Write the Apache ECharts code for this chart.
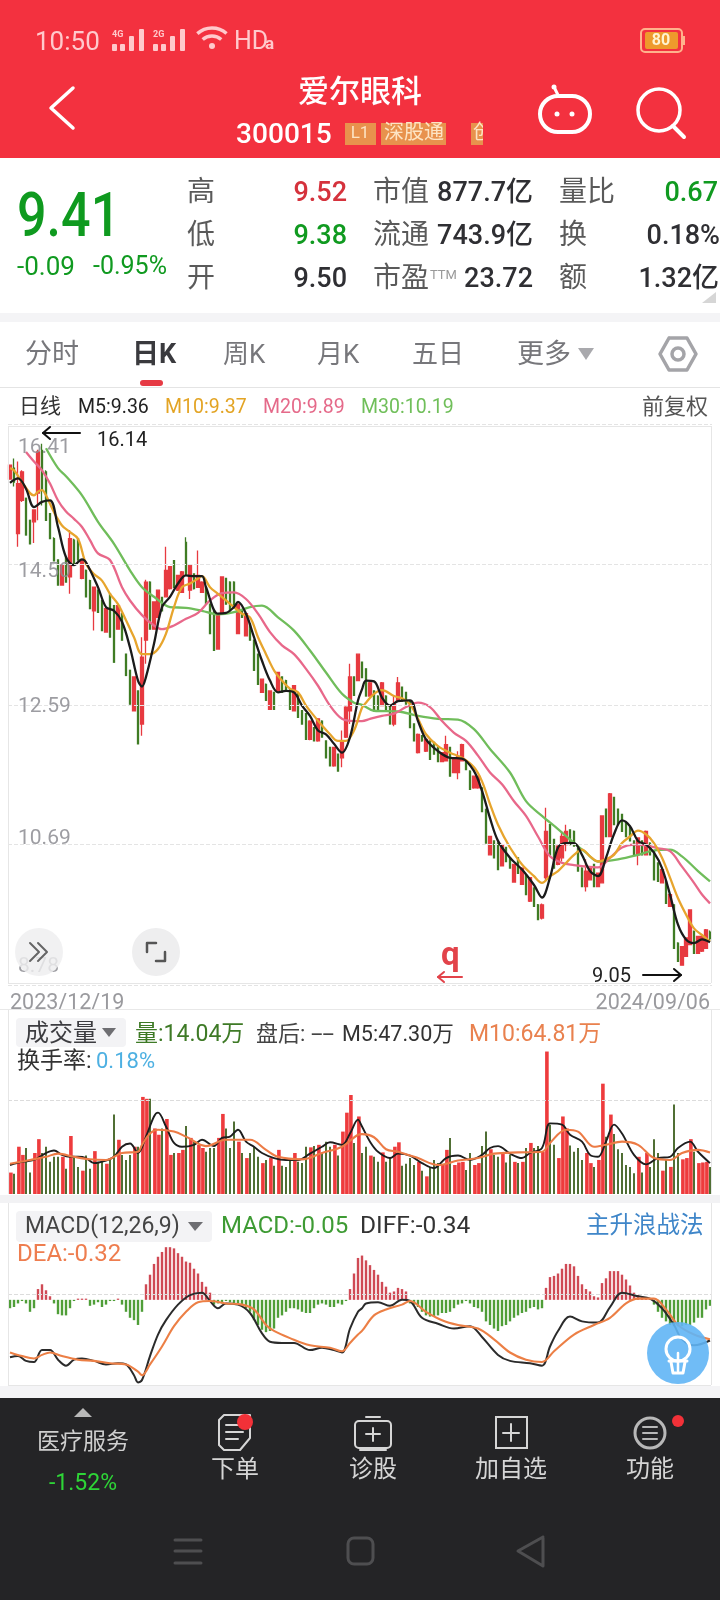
<!DOCTYPE html>
<html><head><meta charset="utf-8">
<style>html,body{margin:0;padding:0;background:#fff}#c{width:720px;height:1600px}</style>
<script src="https://cdn.jsdelivr.net/npm/echarts@6/dist/echarts.min.js"></script>
</head><body><div id="c"></div>
<script>
// [open, close, low, high]
const klineRows=[
[15.66,15.85,15.66,15.85],[15.81,15.62,15.56,15.94],[14.92,15.60,14.74,15.90],[15.37,15.76,15.35,15.78],[15.40,14.90,14.90,15.40],[15.10,14.78,14.78,15.10],[15.08,15.24,14.79,15.24],[15.47,16.03,15.10,16.06],[16.05,15.51,15.30,16.14],[15.76,15.10,15.10,15.78],
[15.19,14.85,14.85,15.20],[14.85,14.55,14.55,14.87],[14.56,14.22,14.22,14.57],[14.22,14.49,14.21,14.50],[14.60,14.26,14.25,14.62],[14.33,14.85,14.10,14.97],[14.83,14.49,14.48,14.85],[14.85,14.56,14.55,14.86],[14.31,14.56,14.30,14.57],[14.42,14.06,14.05,14.43],
[14.28,13.90,13.89,14.29],[13.87,14.19,13.60,14.20],[14.15,13.85,13.85,14.16],[14.01,13.60,13.60,14.02],[13.58,13.90,13.57,13.91],[14.10,13.51,13.51,14.11],[13.94,13.17,13.17,13.94],[13.62,13.94,13.61,13.95],[13.83,13.47,13.47,13.83],[13.28,12.99,12.99,13.28],
[13.06,12.60,12.60,13.06],[12.51,12.97,12.51,12.98],[12.78,12.06,12.06,12.78],[12.33,13.24,12.17,13.51],[13.47,14.26,13.15,14.29],[14.26,13.62,13.62,14.27],[13.62,13.99,13.61,14.00],[13.78,14.15,13.77,14.16],[14.05,13.87,13.86,14.06],[14.06,14.42,14.05,14.74],
[14.17,14.47,14.16,14.48],[14.55,14.19,14.18,14.56],[14.15,14.35,14.14,14.36],[14.12,14.40,14.11,14.41],[14.80,14.37,14.35,14.87],[14.15,14.49,14.03,14.50],[14.37,14.17,14.16,14.38],[14.19,14.35,14.18,14.69],[14.12,14.26,14.11,14.27],[14.19,13.96,13.96,14.20],
[13.96,13.56,13.56,13.97],[13.87,13.33,13.33,13.88],[13.35,13.83,13.34,13.84],[13.85,14.33,13.84,14.34],[14.31,13.96,13.96,14.32],[14.26,13.87,13.87,14.27],[14.26,13.92,13.92,14.27],[13.56,13.96,13.55,13.97],[13.87,13.78,13.77,13.88],[13.53,13.83,13.52,13.84],
[13.69,13.47,13.47,13.70],[13.47,13.06,13.06,13.47],[13.28,12.87,12.87,13.29],[12.76,12.94,12.75,12.95],[12.87,12.65,12.65,12.88],[12.53,12.78,12.52,12.79],[12.76,12.53,12.53,12.77],[12.78,13.03,12.77,13.04],[12.97,12.76,12.76,12.98],[12.92,12.78,12.78,12.93],
[12.81,12.53,12.53,12.82],[12.51,12.85,12.50,12.86],[12.74,12.42,12.42,12.75],[12.51,12.33,12.33,12.52],[12.47,12.12,12.12,12.48],[12.12,12.37,12.11,12.38],[12.28,12.10,12.10,12.29],[12.10,12.40,12.09,12.41],[12.37,12.15,12.15,12.38],[12.10,11.87,11.87,12.11],
[12.01,11.76,11.76,12.02],[11.76,12.01,11.75,12.02],[11.92,11.69,11.69,11.93],[11.87,12.10,11.74,12.24],[12.15,12.56,12.14,12.57],[12.51,12.97,12.33,13.15],[12.97,12.72,12.72,12.98],[12.92,13.28,12.91,13.29],[13.17,12.96,12.96,13.18],[13.08,12.71,12.71,13.08],
[12.71,12.89,12.70,12.90],[12.78,12.51,12.51,12.79],[12.71,12.53,12.53,12.72],[12.58,12.89,12.57,12.90],[12.71,12.51,12.51,12.72],[12.58,12.33,12.33,12.58],[12.33,12.60,12.30,12.71],[12.64,12.89,12.63,12.97],[12.83,12.64,12.64,12.84],[12.76,12.60,12.60,12.77],
[12.64,12.28,12.28,12.65],[12.33,12.10,12.10,12.34],[11.94,12.19,11.93,12.20],[12.17,12.10,12.09,12.18],[11.96,12.12,11.95,12.13],[12.10,11.85,11.85,12.11],[12.08,11.92,11.92,12.09],[12.01,11.82,11.82,12.02],[11.82,11.94,11.81,11.95],[11.83,12.05,11.82,12.17],
[12.01,11.62,11.62,12.02],[11.67,11.87,11.66,11.88],[11.67,11.89,11.58,11.96],[11.83,12.05,11.82,12.06],[11.83,11.71,11.71,11.84],[11.69,11.44,11.44,11.70],[11.46,11.62,11.45,11.63],[11.46,11.62,11.45,11.63],[11.46,11.14,11.14,11.47],[11.17,10.71,10.71,11.17],
[10.55,10.80,10.54,10.81],[10.74,10.51,10.51,10.75],[10.71,10.35,10.35,10.72],[10.40,10.69,10.39,10.70],[10.65,10.46,10.46,10.66],[10.51,10.37,10.37,10.52],[10.18,10.42,10.17,10.43],[10.51,10.30,10.30,10.52],[10.15,10.37,10.14,10.38],[10.28,10.01,10.01,10.29],
[9.92,10.24,9.91,10.25],[10.10,9.85,9.85,10.11],[9.87,9.67,9.67,9.88],[9.69,9.87,9.67,9.89],[10.24,10.87,10.19,11.19],[10.96,10.55,10.55,10.97],[10.76,10.37,10.37,10.77],[10.42,10.67,10.41,10.68],[10.51,10.80,10.46,10.87],[10.69,10.87,10.60,10.96],
[10.89,10.69,10.69,10.90],[10.87,10.67,10.67,10.88],[10.64,10.33,10.33,10.65],[10.37,10.12,10.12,10.38],[10.12,10.33,10.05,10.49],[10.21,10.37,10.20,10.38],[10.42,10.12,10.12,10.43],[10.12,10.30,10.11,10.31],[10.17,11.08,10.16,11.09],[11.17,10.80,10.80,11.18],
[10.80,11.38,10.79,11.39],[11.33,10.96,10.96,11.34],[11.17,10.96,10.96,11.18],[11.10,10.87,10.87,11.11],[10.99,10.80,10.80,11.00],[10.92,10.74,10.74,10.93],[10.74,10.55,10.55,10.75],[10.55,10.78,10.41,10.79],[10.74,10.55,10.55,10.75],[10.55,10.87,10.54,10.88],
[10.71,10.55,10.55,10.72],[10.60,10.21,10.21,10.61],[10.44,10.19,10.19,10.45],[10.17,10.35,10.16,10.36],[10.19,9.89,9.89,10.20],[9.85,10.01,9.84,10.02],[9.87,9.28,9.28,9.88],[9.35,9.10,9.10,9.36],[9.05,9.30,9.05,9.31],[9.17,9.42,9.16,9.43],
[9.33,9.80,9.32,9.81],[9.51,9.21,9.21,9.52],[9.21,9.44,9.20,9.45],[9.24,9.44,9.23,9.45],[9.28,9.53,9.27,9.54],[9.50,9.41,9.38,9.52]];

// [bar index, value] read at the turning points of each line
const ma5=[[0,15.61],[2,15.67],[4,15.53],[6,15.28],[8,15.35],[10,15.37],[12,15.01],[14,14.60],[16,14.49],[18,14.57],[19,14.53],[22,14.19],[24,13.92],[26,13.87],[28,13.72],[30,13.37],[32,12.92],[33,12.84],[34,12.97],[36,13.42],[38,13.92],[40,14.06],[42,14.24],[44,14.35],[46,14.34],[48,14.34],[49,14.19],[52,13.83],[54,13.84],[56,13.92],[57,13.99],[59,13.83],[61,13.51],[63,13.19],[65,12.92],[67,12.76],[69,12.78],[71,12.76],[73,12.58],[75,12.44],[77,12.24],[79,12.19],[81,12.06],[83,11.94],[85,12.15],[87,12.65],[88,12.80],[89,12.92],[91,12.91],[93,12.69],[95,12.58],[97,12.64],[100,12.65],[102,12.37],[104,12.12],[107,11.96],[110,11.87],[113,11.86],[116,11.69],[118,11.42],[120,11.05],[122,10.74],[125,10.51],[128,10.35],[131,10.14],[133,9.97],[135,10.24],[137,10.65],[139,10.71],[141,10.71],[143,10.55],[145,10.33],[147,10.26],[149,10.51],[151,10.83],[153,11.02],[155,10.94],[157,10.74],[159,10.69],[161,10.58],[163,10.37],[165,10.01],[167,9.60],[169,9.40],[171,9.35],[173,9.40],[175,9.36]];
const ma10=[[0,15.81],[1,15.78],[3,15.62],[5,15.47],[6,15.44],[7,15.49],[8,15.51],[9,15.44],[11,15.21],[13,15.03],[15,14.94],[17,14.85],[19,14.51],[21,14.37],[23,14.28],[25,14.10],[27,13.96],[29,13.74],[31,13.51],[33,13.28],[35,13.28],[37,13.35],[39,13.56],[41,13.92],[43,14.19],[45,14.24],[47,14.31],[48,14.34],[50,14.19],[52,14.10],[54,14.01],[56,13.92],[58,13.83],[60,13.78],[62,13.51],[64,13.28],[66,13.06],[68,12.92],[70,12.81],[72,12.76],[74,12.58],[76,12.44],[78,12.31],[80,12.19],[82,12.10],[84,12.10],[86,12.24],[88,12.55],[89,12.62],[91,12.74],[93,12.79],[96,12.71],[98,12.68],[100,12.60],[102,12.40],[104,12.19],[107,12.03],[110,11.94],[113,11.87],[116,11.74],[118,11.55],[120,11.24],[122,10.96],[125,10.65],[128,10.42],[131,10.26],[133,10.17],[135,10.26],[137,10.33],[139,10.44],[141,10.55],[143,10.62],[145,10.53],[147,10.46],[149,10.49],[151,10.55],[153,10.71],[155,10.80],[157,10.88],[159,10.83],[161,10.71],[163,10.51],[165,10.24],[167,9.96],[169,9.74],[171,9.55],[173,9.46],[175,9.37]];
const ma20=[[4,16.03],[6,15.90],[8,15.78],[10,15.60],[12,15.37],[14,15.22],[16,15.12],[18,15.01],[20,14.83],[22,14.65],[25,14.56],[28,14.19],[30,14.01],[33,13.81],[36,13.67],[38,13.62],[41,13.67],[44,13.76],[47,13.84],[50,14.01],[53,14.11],[56,14.12],[59,14.03],[62,13.83],[65,13.58],[68,13.40],[71,13.28],[74,13.08],[77,12.85],[80,12.58],[83,12.40],[86,12.37],[88,12.37],[90,12.40],[93,12.44],[96,12.47],[99,12.56],[102,12.62],[105,12.56],[108,12.37],[111,12.21],[114,12.10],[117,11.90],[120,11.67],[123,11.51],[126,11.28],[129,11.08],[132,10.80],[135,10.53],[138,10.44],[141,10.41],[144,10.39],[147,10.38],[150,10.51],[153,10.65],[156,10.69],[159,10.68],[162,10.64],[165,10.60],[168,10.39],[171,10.17],[173,10.01],[175,9.89]];
const ma30=[[9,16.08],[12,15.81],[14,15.70],[18,15.44],[22,15.08],[26,14.78],[30,14.42],[33,14.19],[36,14.06],[40,13.92],[44,13.91],[48,13.87],[52,13.82],[56,13.85],[60,13.92],[63,13.94],[67,13.78],[71,13.60],[75,13.33],[79,13.03],[83,12.74],[86,12.62],[88,12.59],[91,12.51],[97,12.50],[102,12.44],[107,12.40],[112,12.39],[116,12.26],[120,11.99],[125,11.67],[129,11.28],[133,11.08],[137,10.90],[141,10.71],[144,10.58],[147,10.46],[152,10.49],[157,10.55],[161,10.61],[165,10.62],[168,10.53],[172,10.33],[175,10.19]];

// volume, 万
const volumes=[34,32,75,62,73,34,65,87,65,75,51,59,59,59,40,92,57,43,37,61,40,68,51,51,48,57,126,86,62,54,62,75,75,154,151,151,104,94,104,119,62,65,65,70,108,89,83,78,73,67,73,73,89,127,104,73,115,83,65,57,65,75,59,49,54,57,45,70,45,43,54,65,51,49,75,74,76,78,65,83,75,78,61,99,129,157,81,123,
65,75,61,59,51,66,51,57,75,82,45,48,57,46,51,37,28,43,54,49,46,70,89,46,50,51,38,65,46,49,76,99,71,62,59,65,50,62,51,49,51,73,81,73,76,67,226,110,78,57,123,104,77,67,73,54,65,49,43,54,175,91,126,95,71,65,46,43,33,59,34,65,43,87,65,37,54,43,142,65,55,57,87,67,49,50,51,43];
const volMa5=[[0,46],[3,51],[6,54],[9,65],[11,69],[13,62],[15,59],[17,59],[19,57],[21,49],[24,53],[26,59],[28,75],[30,80],[32,65],[34,91],[36,123],[37,129],[39,107],[41,81],[43,75],[46,78],[48,86],[51,76],[53,89],[55,91],[57,102],[59,83],[61,75],[63,65],[66,57],[69,54],[72,54],[75,64],[78,75],[80,82],[83,78],[85,96],[87,118],[88,107],[90,83],[92,67],[95,57],[97,64],[100,61],[103,49],[106,41],[109,57],[112,61],[115,54],[118,62],[120,73],[122,76],[125,64],[128,57],[130,65],[133,73],[135,112],[138,110],[140,94],[143,83],[145,62],[147,59],[149,83],[151,110],[153,96],[156,62],[159,47],[162,57],[165,59],[167,73],[170,83],[172,67],[175,49]];
const volMa10=[[0,48],[5,54],[9,59],[12,64],[16,59],[20,55],[24,54],[28,65],[32,67],[33,78],[35,96],[37,102],[41,99],[44,91],[49,76],[54,86],[60,86],[64,70],[67,59],[73,55],[78,65],[83,75],[87,94],[88,95],[91,90],[94,71],[97,67],[102,57],[107,46],[112,53],[117,57],[121,64],[127,66],[133,67],[135,81],[139,102],[142,99],[146,75],[149,78],[153,83],[157,78],[161,57],[165,54],[168,65],[172,70],[175,66]];
const volGuide=148;

// MACD
const macdHist=[-.07,-.06,-.03,-.01,-.03,-.10,-.07,.09,.13,.08,.03,-.03,-.12,-.13,-.13,-.07,-.01,.01,.01,.01,-.05,-.04,-.02,-.06,-.04,-.01,-.01,.01,-.04,-.10,-.15,-.17,-.21,-.10,.13,.21,.30,.36,.40,.44,.44,.43,.39,.36,.32,.31,.26,.22,.15,.11,.06,-.04,-.03,-.03,-.01,-.02,-.03,-.03,-.04,-.07,-.10,-.17,-.21,-.25,-.27,-.26,-.24,-.15,-.13,-.10,-.07,-.07,-.08,-.10,-.11,-.11,-.07,-.04,-.03,-.04,-.06,-.06,-.03,-.04,-.01,.09,.22,.35,
.37,.33,.29,.25,.21,.15,.11,.06,.07,.10,.09,.07,-.03,-.04,-.06,-.10,-.13,-.14,-.14,-.13,-.11,-.11,-.10,-.07,-.04,-.03,-.01,-.03,-.06,-.07,-.10,-.18,-.21,-.24,-.26,-.22,-.21,-.18,-.15,-.13,-.11,-.10,-.07,-.06,-.08,-.07,.10,.19,.20,.22,.26,.30,.30,.28,.20,.13,.09,.07,.03,.02,.14,.18,.24,.24,.24,.21,.17,.12,.06,.04,.03,.01,.01,-.04,-.10,-.15,-.18,-.21,-.22,-.22,-.22,-.21,-.21,-.19,-.15,-.15,-.08,-.05];
const diffLine=[[0,-.48],[2,-.47],[4,-.51],[6,-.52],[8,-.42],[10,-.42],[12,-.50],[14,-.55],[16,-.50],[18,-.49],[21,-.51],[24,-.54],[27,-.53],[29,-.54],[31,-.63],[32,-.69],[33,-.67],[35,-.47],[37,-.29],[39,-.17],[42,-.04],[45,.04],[48,.06],[50,-.01],[52,-.07],[54,-.03],[57,-.04],[60,-.11],[63,-.28],[65,-.35],[68,-.36],[71,-.36],[75,-.42],[78,-.40],[81,-.42],[83,-.44],[85,-.24],[87,-.10],[88,-.07],[89,-.03],[92,-.02],[95,-.05],[98,0],[100,-.01],[103,-.15],[107,-.20],[111,-.24],[115,-.22],[118,-.31],[122,-.46],[125,-.51],[130,-.53],[133,-.55],[135,-.39],[137,-.26],[140,-.14],[143,-.18],[147,-.19],[150,-.06],[153,.06],[157,.03],[160,.01],[163,-.07],[166,-.21],[168,-.33],[171,-.38],[175,-.34]];
const deaLine=[[0,-.44],[3,-.47],[6,-.49],[8,-.46],[10,-.44],[13,-.47],[17,-.50],[21,-.51],[25,-.53],[29,-.54],[32,-.60],[33,-.63],[35,-.54],[38,-.39],[41,-.22],[44,-.10],[47,-.02],[50,-.01],[54,-.03],[58,-.04],[61,-.08],[64,-.21],[66,-.26],[70,-.32],[75,-.38],[80,-.40],[83,-.43],[85,-.36],[87,-.29],[88,-.26],[91,-.13],[94,-.08],[98,-.04],[100,-.01],[104,-.10],[108,-.17],[112,-.21],[117,-.24],[121,-.33],[125,-.44],[129,-.50],[133,-.52],[136,-.43],[141,-.29],[146,-.21],[150,-.15],[154,-.03],[157,.01],[161,.01],[164,-.08],[167,-.21],[171,-.29],[175,-.33]];
const macdGuide=.05;

const priceTicks=['8.78','10.69','12.59','14.50','16.41'];
const dateLabels=['2023/12/19','2024/09/06'];

const RED='#e73a40',GREEN='#3f7c24',
 FF='Roboto,"Noto Sans CJK SC"';
const last=klineRows.length-1;
const cats=klineRows.map((_,i)=>i===0?dateLabels[0]:i===last?dateLabels[1]:'');
const blank=['-','-','-','-'];
const upRows=klineRows.map(r=>r[1]>=r[0]?r:blank);
const downRows=klineRows.map(r=>r[1]<r[0]?r:blank);
const isUp=klineRows.map(r=>r[1]>=r[0]);
const volUp=volumes.map((v,i)=>isUp[i]?v:'-');
const volDown=volumes.map((v,i)=>isUp[i]?'-':v);

const g=[];
function T(text,x,y,size,fill,o={}){
  g.push({type:'text',x,y:y+4,scaleX:o.sx||1,scaleY:o.sy||1,z:o.z||50,silent:true,
    style:{text,fill,align:o.align||'left',verticalAlign:'middle',
      font:`${o.w||'normal'} ${size}px ${FF}`}});
}
function R(x,y,w,h,fill,o={}){g.push({type:'rect',z:o.z===undefined?40:o.z,silent:true,shape:{x,y,width:w,height:h,r:o.r||0},
  style:{fill:fill,stroke:o.stroke||null,lineWidth:o.lw||1}});}
function P(points,stroke,lw,o={}){g.push({type:o.fill?'polygon':'polyline',z:o.z||50,silent:true,shape:{points},
  style:{stroke:o.fill?null:stroke,fill:o.fill||null,lineWidth:lw||1,lineCap:'round',lineJoin:'round'}});}
function C(cx,cy,r,fill,stroke,lw,o={}){g.push({type:'circle',z:o.z||50,silent:true,shape:{cx,cy,r},
  style:{fill:fill||null,stroke:stroke||null,lineWidth:lw||1}});}

// backgrounds
R(0,0,720,158,'#f3313f');
R(0,313,720,9,'#f4f4f6');
R(0,387,720,1,'#e4e4e4');
R(8,426,703,1,'#e6e6e6');R(8,426,1,557,'#e6e6e6');R(711,426,1,557,'#e6e6e6');R(8,983,703,1,'#e6e6e6');
R(0,1009,720,1,'#e8e8e8');
R(8,1010,1,184,'#e6e6e6');R(711,1010,1,184,'#e6e6e6');
R(0,1195,720,8,'#f2f2f4');
R(8,1203,1,182,'#e6e6e6');R(711,1203,1,182,'#e6e6e6');R(8,1385,703,1,'#e6e6e6');
R(0,1386,720,12,'#f4f4f6');
R(0,1398,720,202,'#242426');

// status bar
const sb='#ffc9cc';
T('10:50',35,39,26,sb);
T('4G',112,31,9,sb,{w:'bold'});T('2G',153,31,9,sb,{w:'bold'});
[[112,44,7],[120,44,7],[129,36,15],[139,29,22]].forEach(a=>R(a[0],a[1],5,a[2],sb,{r:1}));
[[153,44,7],[161,44,7],[170,36,15],[180,29,22]].forEach(a=>R(a[0],a[1],5,a[2],sb,{r:1}));
g.push({type:'arc',z:50,silent:true,shape:{cx:212,cy:50,r:22,startAngle:-2.3,endAngle:-0.85},style:{stroke:sb,lineWidth:3.5,fill:null}});
g.push({type:'arc',z:50,silent:true,shape:{cx:212,cy:50,r:14,startAngle:-2.3,endAngle:-0.85},style:{stroke:sb,lineWidth:3.5,fill:null}});
C(212,46,3,sb);
T('HD',234,39,25,sb);T('a',265,41,17,sb,{w:'bold'});
R(641,29,41,23,'none',{stroke:'#ffb28c',lw:2,r:4});R(645,32,33,17,'#ee9a2c',{r:2});
T('80',661,37,16,'#fff3d0',{align:'center',w:'bold'});R(683,36,2,9,'#ffb28c');

// header
T('爱尔眼科',360,90,31,'#fff',{align:'center',w:'500'});
T('300015',236,132,27,'#fff',{w:'500',sx:1.04});
R(345,123,31,22,'#e8924d');T('L1',360,130,17,'#fde4c4',{align:'center'});
R(381,123,65,22,'#e8924d');T('深股通',414,130,20,'#fde4c4',{align:'center'});
R(471,123,20,22,'#e8924d');T('创',473,130,20,'#fde4c4');R(483,120,30,30,'#f3313f',{z:52});
P([[73,88],[51,108],[73,128]],'#fff',3.5);
R(540,96,50,36,'none',{stroke:'#fff',lw:4,r:18});C(557,114,2.5,'#fff');C(572,114,2.5,'#fff');
P([[558,95],[555,89]],'#fff',3);C(554,87,2.5,'#fff');
C(659,110,21,null,'#fff',3.5);P([[673,126],[684,137]],'#fff',4);

// quote block
T('9.41',17,216,62,'#0f9a1f',{sx:.84,w:'500'});
T('-0.09',17,264,26,'#109a20');
T('-0.95%',93,264,25,'#109a20');
const lab='#5a5a5a',dk='#2f2f33',grn='#109a20',rd='#d5323c',VW='500';
T('高',187,190,28,lab);T('低',187,233,28,lab);T('开',187,276,28,lab);
T('9.52',347,190,27,rd,{align:'right',w:VW});T('9.38',347,233,27,grn,{align:'right',w:VW});T('9.50',347,276,27,dk,{align:'right',w:VW});
T('市值',373,190,28,lab);T('流通',373,233,28,lab);T('市盈',373,276,28,lab);T('TTM',430,272,13,'#999');
T('877.7亿',533,190,27,dk,{align:'right',w:VW});T('743.9亿',533,233,27,dk,{align:'right',w:VW});T('23.72',533,276,27,dk,{align:'right',w:VW});
T('量比',559,190,28,lab);T('换',559,233,28,lab);T('额',559,276,28,lab);
T('0.67',718,190,27,grn,{align:'right',w:VW});T('0.18%',720,233,27,dk,{align:'right',w:VW});T('1.32亿',719,276,27,dk,{align:'right',w:VW});
P([[716,292],[716,303],[702,303]],null,1,{fill:'#d6d6d6'});

// tabs
const tab='#77777b';
T('分时',25,352,27,tab);T('日K',132,352,27,'#3a3a3e',{w:'bold'});T('周K',223,352,26,tab);T('月K',317,352,26,tab);T('五日',412,352,26,tab);T('更多',517,352,27,tab);
P([[578,348],[594,348],[586,360]],null,1,{fill:'#a9a9ad'});
R(140,380,23,6,'#e63a44',{r:3});
P([[669,338],[687,338],[696,354],[687,370],[669,370],[660,354],[669,338]],'#a4a4a8',3.5);C(678,354,6,null,'#a4a4a8',3.5);

// MA legend
T('日线',19,404,21,'#333');T('M5:9.36',78,404,21,'#222',{sx:.93});T('M10:9.37',165,404,21,'#e3a424',{sx:.93});T('M20:9.89',263,404,21,'#e56a8a',{sx:.93});T('M30:10.19',361,404,21,'#70bf5a',{sx:.93});T('前复权',642,404,22,'#555');

// price annotations
T('16.14',97,437,20,'#222');
P([[80,433],[43,433]],'#111',2);P([[50,427],[43,433],[50,439]],'#111',2);
T('9.05',592,973,20,'#222');
P([[643,975],[681,975]],'#111',2);P([[674,969],[681,975],[674,981]],'#111',2);
T('q',441,953,33,'#e2434a',{w:'bold'});
P([[462,977],[438,977]],'#e2434a',2);P([[444,972],[438,977],[444,982]],'#e2434a',2);

// round buttons
C(39,952,24,'rgba(238,238,239,.82)');C(156,952,24,'#eeeeef');
P([[30,943],[39,952],[30,961]],'#666',2);P([[38,943],[47,952],[38,961]],'#666',2);
P([[147,952],[147,943],[156,943]],'#555',2.5);P([[165,952],[165,961],[156,961]],'#555',2.5);

// volume header
R(16,1018,110,29,'#f3f3f5',{r:4});
T('成交量',25,1031,24,'#3c3c40');P([[102,1028],[116,1028],[109,1037]],null,1,{fill:'#6e6e72'});
T('量:14.04万',135,1031,23,'#3e7a26');T('盘后:',256,1031,22,'#444');T('--',311,1031,22,'#444',{sx:1.9});T('M5:47.30万',342,1031,22,'#333',{sx:.98});T('M10:64.81万',469,1031,23,'#e9814e');
T('换手率:',17,1058,23,'#333');T('0.18%',96,1058,22,'#4db0e2');

// MACD header
R(16,1211,196,31,'#f3f3f5',{r:4});
T('MACD(12,26,9)',25,1223,23,'#444');P([[188,1222],[203,1222],[195,1231]],null,1,{fill:'#6e6e72'});
T('MACD:-0.05',221,1223,24,'#3e9b34');T('DIFF:-0.34',360,1223,24.5,'#333');T('主升浪战法',586,1223,23.5,'#3f86c9');
T('DEA:-0.32',17,1251,24,'#ee7d4f');

// lamp button
C(678,1353,31,'rgba(96,181,245,.9)',null,1,{z:60});
C(678,1349,12,null,'#fff',3,{z:61});
P([[671,1362],[673,1373],[683,1373],[685,1362]],'#fff',3,{z:61});P([[669,1361],[687,1361]],'#fff',3,{z:61});P([[678,1353],[678,1371]],'#fff',2.5,{z:61});

// footer
const ft='#d6d6d6';
P([[74,1417],[92,1417],[83,1408]],null,1,{fill:'#b8b8b8'});
T('医疗服务',83,1439,23,'#cfcfcf',{align:'center'});T('-1.52%',83,1480,23,'#2ed537',{align:'center'});
P([[219,1423],[219,1445],[224,1450],[240,1450],[250,1438],[250,1415],[224,1415],[219,1420],[219,1423]],ft,2);
P([[226,1425],[243,1425]],ft,2);P([[226,1432],[243,1432]],ft,2);P([[226,1439],[238,1439]],ft,2);
C(245,1422,8,'#f23138');
T('下单',235,1467,24,ft,{align:'center'});
R(355,1421,36,27,'none',{stroke:ft,lw:2,r:4});P([[366,1417],[380,1417]],ft,2);P([[360,1450],[386,1450]],ft,2);P([[373,1428],[373,1441]],ft,2);P([[366,1434],[380,1434]],ft,2);
T('诊股',373,1467,24,ft,{align:'center'});
R(496,1417,31,31,'none',{stroke:ft,lw:2});P([[511,1424],[511,1441]],ft,2);P([[503,1433],[519,1433]],ft,2);
T('加自选',511,1467,24,ft,{align:'center'});
C(650,1433,15,null,'#b8b8b8',3);P([[643,1427],[657,1427]],'#b8b8b8',2);P([[643,1433],[657,1433]],'#b8b8b8',2);P([[643,1439],[657,1439]],'#b8b8b8',2);
C(678,1421,6,'#f23138');
T('功能',650,1467,24,ft,{align:'center'});
const nv='#4e4e50';
P([[175,1540],[201,1540]],nv,3);P([[175,1551],[201,1551]],nv,3);P([[175,1563],[201,1563]],nv,3);
R(348,1538,25,26,'none',{stroke:nv,lw:3,r:6});
P([[543,1537],[543,1566],[518,1551],[543,1537]],nv,3);

function lineS(name,data,color,gi,w){return {name,type:'line',data,xAxisIndex:gi,yAxisIndex:gi,smooth:.35,showSymbol:false,symbol:'none',
  lineStyle:{color,width:w},itemStyle:{color},silent:true,z:5,animation:false};}
const guide=v=>({silent:true,symbol:'none',label:{show:false},lineStyle:{type:'dashed',color:'#dcdcdc',width:1},data:[{yAxis:v}],animation:false});
const priceOffsets=[[0,0,36,0],[0,0,12,0],[4,0,0,0],[14,0,0,0],[48,0,0,0]];
const rich={};priceOffsets.forEach((p,i)=>rich['t'+i]={padding:p,fontSize:21,color:'rgba(140,140,146,.85)',fontFamily:FF});

const opt={
 animation:false,backgroundColor:'#fff',tooltip:{show:false},
 grid:[
  {left:8,width:704,top:424,height:561},
  {left:8,width:704,top:1049,height:145},
  {left:8,width:704,top:1240,height:146}],
 xAxis:[0,1,2].map(i=>({type:'category',gridIndex:i,data:cats,boundaryGap:true,
   axisLine:{show:false},axisTick:{show:false},splitLine:{show:false},
   axisLabel:i===0?{show:true,interval:0,margin:8,fontSize:21.5,color:'#9a9a9e',fontFamily:FF,alignMinLabel:'left',alignMaxLabel:'right',hideOverlap:false}:{show:false}})),
 yAxis:[
  {type:'value',gridIndex:0,min:8.78,max:16.41,position:'left',z:10,axisLine:{show:false},
   axisTick:{show:false,customValues:priceTicks.map(Number)},
   splitLine:{show:true,lineStyle:{type:'dashed',color:'#e4e4e4',width:1}},
   axisLabel:{inside:true,margin:10,customValues:priceTicks.map(Number),showMinLabel:true,showMaxLabel:true,
     formatter:v=>{const i=priceTicks.findIndex(t=>Math.abs(+t-v)<1e-6);return i<0?'':`{t${i}|${priceTicks[i]}}`;},rich}},
  {type:'value',gridIndex:1,min:0,max:230,axisLine:{show:false},axisTick:{show:false},axisLabel:{show:false},splitLine:{show:false}},
  {type:'value',gridIndex:2,min:-.72,max:.5,axisLine:{show:false},axisTick:{show:false},axisLabel:{show:false},splitLine:{show:false}}],
 series:[
  {name:'K线涨',type:'candlestick',data:upRows,barWidth:3.6,xAxisIndex:0,yAxisIndex:0,silent:true,z:3,
   itemStyle:{color:RED,color0:RED,borderColor:RED,borderColor0:RED,borderWidth:1.3}},
  {name:'K线跌',type:'candlestick',data:downRows,barWidth:2.4,xAxisIndex:0,yAxisIndex:0,silent:true,z:3,
   itemStyle:{color:GREEN,color0:GREEN,borderColor:GREEN,borderColor0:GREEN,borderWidth:1.3}},
  lineS('M30',ma30,'#70bd5b',0,2.3),lineS('M20',ma20,'#e8688a',0,2.3),lineS('M10',ma10,'#e7a52d',0,2.3),lineS('M5',ma5,'#1b1b1b',0,2.3),
  {name:'量涨',type:'bar',data:volUp,xAxisIndex:1,yAxisIndex:1,barWidth:3.6,barGap:'-100%',silent:true,itemStyle:{color:'#ee3b3d'},z:3,markLine:guide(volGuide)},
  {name:'量跌',type:'bar',data:volDown,xAxisIndex:1,yAxisIndex:1,barWidth:1.8,barGap:'-100%',silent:true,itemStyle:{color:'#3d5f1e'},z:3},
  lineS('量M5',volMa5,'#1e1e1e',1,1.9),lineS('量M10',volMa10,'#ec7b45',1,2.1),
  {name:'MACD',type:'bar',data:macdHist,xAxisIndex:2,yAxisIndex:2,barWidth:2.4,silent:true,z:3,
   itemStyle:{color:p=>p.value>=0?'#cf4a55':'#4f9e38'},markLine:guide(macdGuide)},
  lineS('DIFF',diffLine,'#2b2b2b',2,2),lineS('DEA',deaLine,'#ec7f45',2,2.1)],
 graphic:{elements:g}
};
const chart=echarts.init(document.getElementById('c'),null,{width:720,height:1600});
chart.setOption(opt);
</script></body></html>
